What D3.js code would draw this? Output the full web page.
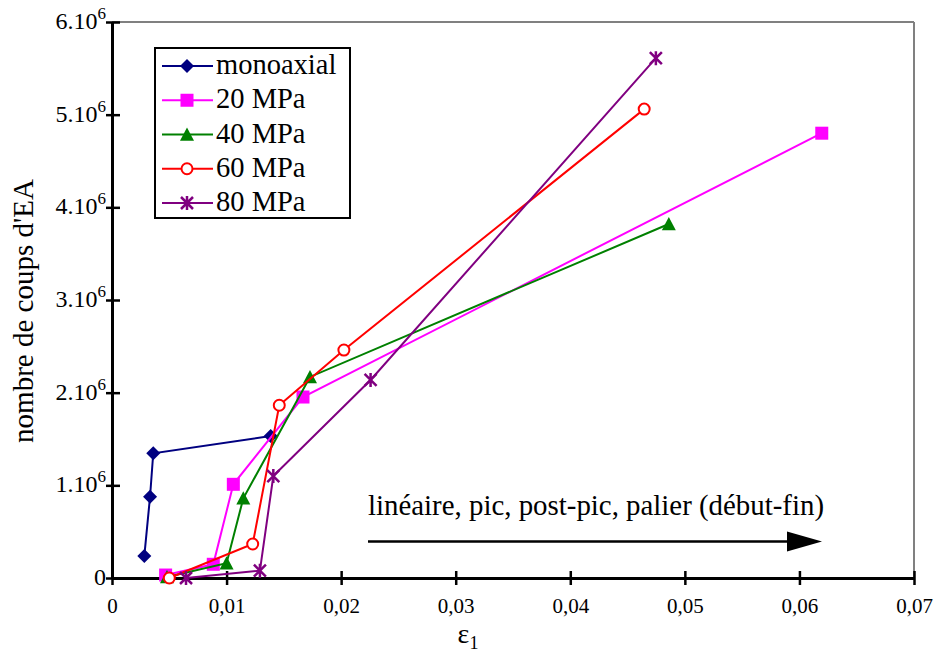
<!DOCTYPE html>
<html>
<head>
<meta charset="utf-8">
<script src="https://cdn.jsdelivr.net/npm/d3@7"></script>
<style>
  html, body { margin: 0; padding: 0; background: #fff; }
  svg { display: block; }
  svg text { font-family: "Liberation Serif", "DejaVu Serif", "Times New Roman", serif; }
</style>
</head>
<body>
<svg id="chart" width="934" height="653"></svg>
<script>
// ---- data ----
const seriesNames = ["monoaxial", "20 MPa", "40 MPa", "60 MPa", "80 MPa"];
const monoX  = [0.00282, 0.00332, 0.0036, 0.01385];
const monoY  = [0.237e6, 0.877e6, 1.346e6, 1.532e6];
const mpa20X = [0.00468, 0.00884, 0.01059, 0.01667, 0.06195];
const mpa20Y = [0.032e6, 0.148e6, 1.011e6, 1.953e6, 4.80e6];
const mpa40X = [0.0048, 0.0100, 0.01146, 0.01728, 0.0486];
const mpa40Y = [0.01e6, 0.16e6, 0.86e6, 2.17e6, 3.82e6];
const mpa60X = [0.0050, 0.01228, 0.0146, 0.02024, 0.04645];
const mpa60Y = [0, 0.367e6, 1.864e6, 2.46e6, 5.06e6];
const mpa80X = [0.00646, 0.01291, 0.01408, 0.02257, 0.04747];
const mpa80Y = [0, 0.079e6, 1.10e6, 2.137e6, 5.61e6];
const xTicks = [0, 0.01, 0.02, 0.03, 0.04, 0.05, 0.06, 0.07];
const xTickLabels = ["0", "0,01", "0,02", "0,03", "0,04", "0,05", "0,06", "0,07"];
const yTicks = [0, 1e6, 2e6, 3e6, 4e6, 5e6, 6e6];
const yTickMain = ["0", "1.10", "2.10", "3.10", "4.10", "5.10", "6.10"];
const yTickSup  = ["", "6", "6", "6", "6", "6", "6"];
const annotation = "linéaire, pic, post-pic, palier (début-fin)";

const colors = ["#000080", "#FF00FF", "#008000", "#FF0000", "#800080"];
const shapes = ["diamond", "square", "triangle", "circle", "star"];
const allX = [monoX, mpa20X, mpa40X, mpa60X, mpa80X];
const allY = [monoY, mpa20Y, mpa40Y, mpa60Y, mpa80Y];

const FONT = "'Liberation Serif', 'DejaVu Serif', 'Times New Roman', serif";

// ---- layout ----
const svg = d3.select("#chart");
const L = 112, R = 914, T = 22, B = 578;
const x = d3.scaleLinear().domain([0, 0.07]).range([L, R]);
const y = d3.scaleLinear().domain([0, 6e6]).range([B, T]);

// frame (top/right gray)
svg.append("line").attr("x1", L).attr("x2", R).attr("y1", T).attr("y2", T)
  .attr("stroke", "#808080").attr("stroke-width", 2);
svg.append("line").attr("x1", R).attr("x2", R).attr("y1", T).attr("y2", B)
  .attr("stroke", "#808080").attr("stroke-width", 2);

// x axis
const xAxis = d3.axisBottom(x).tickValues(xTicks).tickFormat((d, i) => xTickLabels[i])
  .tickSizeInner(7).tickSizeOuter(0).tickPadding(13);
const gx = svg.append("g").attr("transform", `translate(0,${B})`).call(xAxis);
gx.attr("font-family", FONT);
gx.select(".domain").attr("stroke", "#000").attr("stroke-width", 3);
gx.selectAll(".tick line").attr("stroke", "#000").attr("stroke-width", 2.5).attr("y1", -7);
gx.selectAll(".tick text").attr("font-family", FONT).attr("font-size", 21).attr("fill", "#000");

// y axis
const yAxis = d3.axisLeft(y).tickValues(yTicks).tickFormat(() => "")
  .tickSizeInner(6).tickSizeOuter(0);
const gy = svg.append("g").attr("transform", `translate(${L},0)`).call(yAxis);
gy.attr("font-family", FONT);
gy.select(".domain").attr("stroke", "#000").attr("stroke-width", 3);
gy.selectAll(".tick line").attr("stroke", "#000").attr("stroke-width", 2.5).attr("x2", 8).attr("x1", -6);
gy.selectAll(".tick").each(function(d, i) {
  const t = d3.select(this).append("text")
    .attr("x", -6).attr("y", 6.5)
    .attr("text-anchor", "end")
    .attr("font-family", FONT).attr("font-size", 24).attr("fill", "#000");
  t.append("tspan").text(yTickMain[i]);
  if (yTickSup[i]) t.append("tspan").attr("dy", -10).attr("font-size", 17).text(yTickSup[i]);
});

// axis titles
svg.append("text").attr("transform", "translate(33,311) rotate(-90)")
  .attr("text-anchor", "middle").attr("font-family", FONT).attr("font-size", 29).attr("fill", "#000")
  .text("nombre de coups d'EA");
const xt = svg.append("text").attr("x", 468).attr("y", 643).attr("text-anchor", "middle")
  .attr("font-family", FONT).attr("font-size", 28).attr("fill", "#000");
xt.append("tspan").text("ε");
xt.append("tspan").attr("font-size", 18).attr("dy", 6).text("1");

// marker drawing
function drawMarker(g, shape, color, cx, cy) {
  if (shape === "diamond") {
    const s = 7;
    g.append("path").attr("d", `M${cx},${cy - s}L${cx + s},${cy}L${cx},${cy + s}L${cx - s},${cy}Z`)
      .attr("fill", color);
  } else if (shape === "square") {
    g.append("rect").attr("x", cx - 6.5).attr("y", cy - 6.5).attr("width", 13).attr("height", 13)
      .attr("fill", color);
  } else if (shape === "triangle") {
    const s = 7;
    g.append("path").attr("d", `M${cx},${cy - s}L${cx + s},${cy + s * 0.9}L${cx - s},${cy + s * 0.9}Z`)
      .attr("fill", color);
  } else if (shape === "circle") {
    g.append("circle").attr("cx", cx).attr("cy", cy).attr("r", 5.5)
      .attr("fill", "#fff").attr("stroke", color).attr("stroke-width", 2);
  } else if (shape === "star") {
    const s = 6;
    const p = `M${cx},${cy - s - 1}L${cx},${cy + s + 1}M${cx - s},${cy - s}L${cx + s},${cy + s}M${cx - s},${cy + s}L${cx + s},${cy - s}`;
    g.append("path").attr("d", p).attr("stroke", color).attr("stroke-width", 2.5).attr("fill", "none");
  }
}

// series
const line = d3.line().x(d => x(d[0])).y(d => y(d[1]));
seriesNames.forEach((name, si) => {
  const pts = allX[si].map((v, i) => [v, allY[si][i]]);
  const g = svg.append("g");
  g.append("path").attr("d", line(pts)).attr("fill", "none")
    .attr("stroke", colors[si]).attr("stroke-width", 2);
  pts.forEach(p => drawMarker(g, shapes[si], colors[si], x(p[0]), y(p[1])));
});

// legend
const lg = svg.append("g");
lg.append("rect").attr("x", 155).attr("y", 48).attr("width", 195).attr("height", 170)
  .attr("fill", "#fff").attr("stroke", "#000").attr("stroke-width", 2);
seriesNames.forEach((name, si) => {
  const cy = 66 + si * 34.25;
  lg.append("line").attr("x1", 162).attr("x2", 213).attr("y1", cy).attr("y2", cy)
    .attr("stroke", colors[si]).attr("stroke-width", 2);
  drawMarker(lg, shapes[si], colors[si], 187, cy);
  lg.append("text").attr("x", 216).attr("y", cy + 8).attr("font-family", FONT)
    .attr("font-size", 28.5).attr("fill", "#000")
    .text(name);
});

// annotation + arrow
svg.append("text").attr("x", 368).attr("y", 515).attr("font-family", FONT)
  .attr("font-size", 28.5).attr("fill", "#000")
  .attr("textLength", 456).attr("lengthAdjust", "spacingAndGlyphs")
  .text(annotation);
svg.append("line").attr("x1", 368).attr("x2", 790).attr("y1", 541.5).attr("y2", 541.5)
  .attr("stroke", "#000").attr("stroke-width", 2.5);
svg.append("path").attr("d", "M787,531.5L822,541.5L787,551.5Z").attr("fill", "#000");
</script>
</body>
</html>
